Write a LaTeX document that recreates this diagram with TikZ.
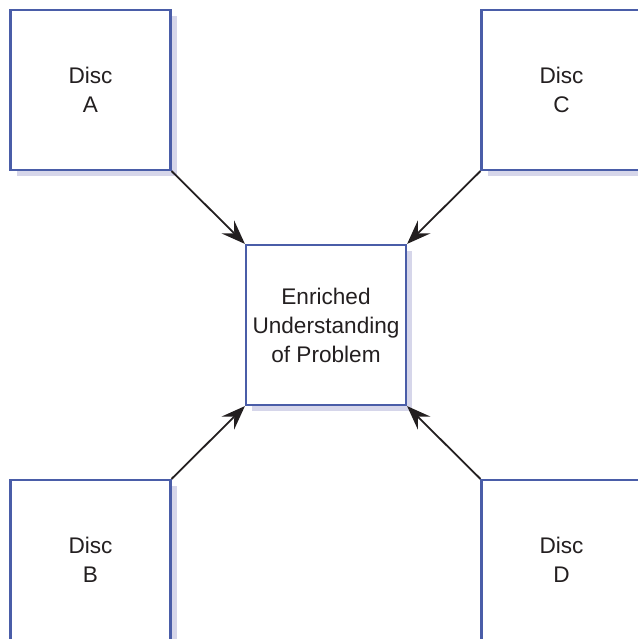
\documentclass[tikz,border=0pt]{standalone}
\usepackage{fontspec}
\setmainfont{Liberation Sans}
\usetikzlibrary{positioning,shadows,arrows.meta}
\definecolor{discblue}{HTML}{4A5DA8}
\definecolor{discshade}{HTML}{D6D6EA}
\definecolor{disctext}{HTML}{231F20}

\begin{document}
\begin{tikzpicture}[x=1pt,y=-1pt,node distance=235pt and 235.5pt,on grid,
    disc/.style={draw=discblue,line width=2.2pt,fill=white,minimum size=160pt,
      inner sep=0pt,align=center,text=disctext,font=\fontsize{22.6}{29}\selectfont,
      drop shadow={shadow xshift=6pt,shadow yshift=-6pt,fill=discshade,opacity=1}},
    link/.style={-{Stealth[length=24pt,width=18pt,inset=9pt]},line width=1.8pt,disctext}]
    \useasboundingbox (0,0) rectangle (637,639);
    \node[disc]           (eup)                    at (326,325) {Enriched\\Understanding\\of Problem};
    \node[disc]           (discA) [above left=of eup]  {Disc\\A};
    \node[disc]           (discC) [above right=of eup] {Disc\\C};
    \node[disc]           (discB) [below left=of eup]  {Disc\\B};
    \node[disc]           (discD) [below right=of eup] {Disc\\D};
    \path[link] (discA.south east) edge (eup.north west)
                (discC.south west) edge (eup.north east)
                (discB.north east) edge (eup.south west)
                (discD.north west) edge (eup.south east);
\end{tikzpicture}
\end{document}
